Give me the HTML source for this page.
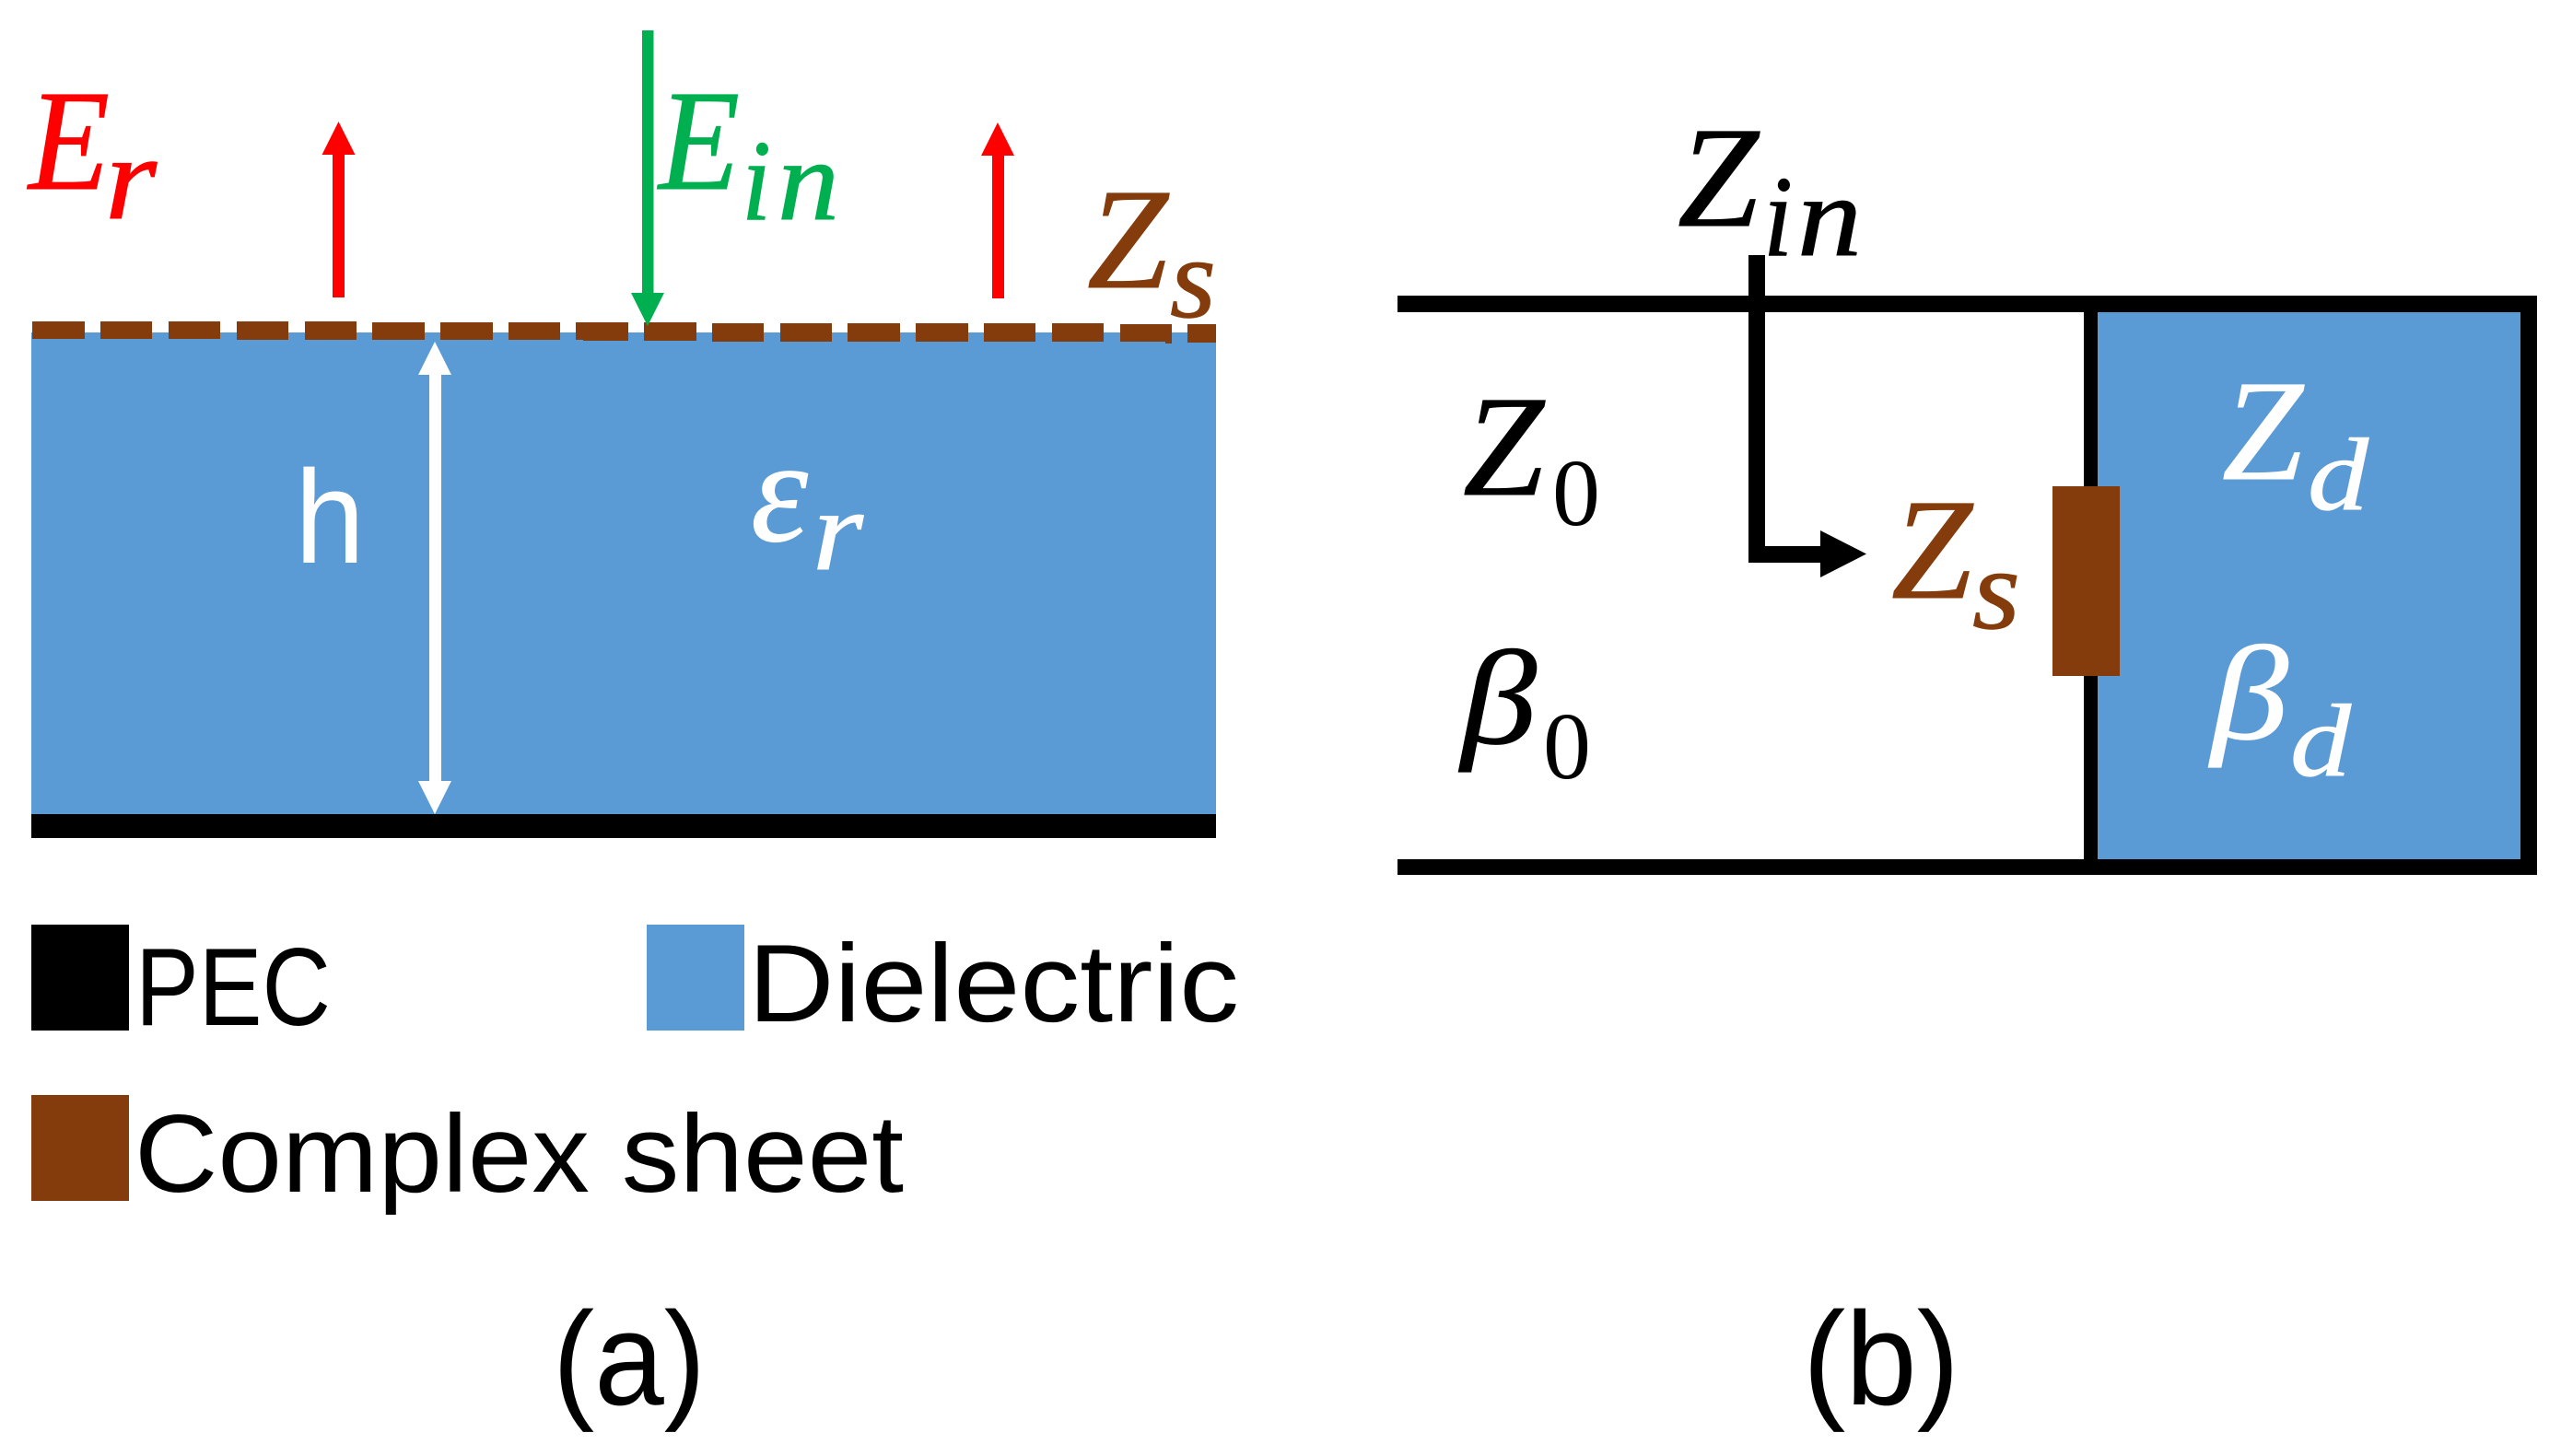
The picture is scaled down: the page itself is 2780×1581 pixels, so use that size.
<!DOCTYPE html>
<html><head><meta charset="utf-8"><title>Diagram</title>
<style>
html,body{margin:0;padding:0;background:#fff;width:2780px;height:1581px;overflow:hidden}
svg{display:block}
.s{font-family:"Liberation Sans",sans-serif}
.m{font-family:"Liberation Serif",serif;font-style:italic;stroke-width:1}
.u{font-family:"Liberation Serif",serif}
</style></head><body>
<svg xmlns="http://www.w3.org/2000/svg" width="2780" height="1581" viewBox="0 0 2780 1581">
<rect width="2780" height="1581" fill="#fff"/>
<!-- (a) substrate -->
<rect x="34" y="361" width="1286" height="524" fill="#5B9BD5"/>
<rect x="34" y="884" width="1286" height="26" fill="#000"/>
<!-- dashed sheet -->
<g fill="#843C0C">
<rect x="35" y="349" width="57" height="19"/><rect x="109" y="349" width="56" height="19"/><rect x="183" y="349" width="56" height="19"/><rect x="257" y="349" width="56" height="20"/><rect x="331" y="349" width="56" height="20"/>
<rect x="404" y="350" width="57" height="19"/><rect x="478" y="350" width="57" height="19"/><rect x="552" y="350" width="56" height="19"/><rect x="625" y="350" width="57" height="19"/><rect x="633" y="351" width="49" height="19"/><rect x="699" y="350" width="57" height="20"/>
<rect x="773" y="351" width="56" height="20"/><rect x="847" y="351" width="56" height="20"/><rect x="920" y="351" width="57" height="20"/><rect x="994" y="351" width="57" height="20"/><rect x="1068" y="351" width="56" height="20"/><rect x="1142" y="351" width="56" height="20"/>
<rect x="1216" y="352" width="56" height="19"/><rect x="1265" y="371" width="7" height="2"/><rect x="1289" y="352" width="31" height="20"/>
</g>
<!-- white double arrow -->
<rect x="466" y="400" width="13" height="455" fill="#fff"/>
<polygon points="472,371 490,407 454,407" fill="#fff"/>
<polygon points="472,884 490,848 454,848" fill="#fff"/>
<!-- red arrows -->
<g fill="#FF0000">
<rect x="361" y="165" width="13" height="158"/><polygon points="367.500,132 385.500,168 349.500,168"/>
<rect x="1077" y="166" width="13" height="158"/><polygon points="1083,133 1101,169 1065,169"/>
</g>
<!-- green arrow -->
<g fill="#00B050">
<rect x="697" y="33" width="12.500" height="288"/><polygon points="703,354 685,318 721,318"/>
</g>
<!-- (a) math -->
<g class="m" fill="#FF0000" stroke="#FF0000">
<text x="31" y="205" font-size="156" textLength="88" lengthAdjust="spacingAndGlyphs">E</text>
<text x="114" y="237" font-size="130" textLength="56" lengthAdjust="spacingAndGlyphs">r</text>
</g>
<g class="m" fill="#00B050" stroke="#00B050">
<text x="715" y="205" font-size="156" textLength="88" lengthAdjust="spacingAndGlyphs">E</text>
<text x="805" y="238" font-size="125" textLength="32" lengthAdjust="spacingAndGlyphs">i</text>
<text x="844" y="238" font-size="125" textLength="67" lengthAdjust="spacingAndGlyphs">n</text>
</g>
<g class="m" fill="#843C0C" stroke="#843C0C">
<text x="1180" y="312" font-size="156" textLength="88" lengthAdjust="spacingAndGlyphs">Z</text>
<text x="1270" y="344" font-size="125" textLength="50" lengthAdjust="spacingAndGlyphs">s</text>
</g>
<text class="s" x="320" y="611" font-size="144" fill="#fff" textLength="76" lengthAdjust="spacingAndGlyphs">h</text>
<g class="m" fill="#fff" stroke="#fff">
<text x="815" y="587" font-size="160" textLength="62" lengthAdjust="spacingAndGlyphs">ε</text>
<text x="882" y="618" font-size="125" textLength="55" lengthAdjust="spacingAndGlyphs">r</text>
</g>
<!-- legend -->
<rect x="34" y="1004" width="106" height="115" fill="#000"/>
<rect x="702" y="1004" width="106" height="115" fill="#5B9BD5"/>
<rect x="34" y="1189" width="106" height="115" fill="#843C0C"/>
<g class="s" fill="#000" font-size="120">
<text x="147" y="1113" textLength="212" lengthAdjust="spacingAndGlyphs">PEC</text>
<text x="812" y="1109" textLength="533" lengthAdjust="spacingAndGlyphs">Dielectric</text>
<text x="146" y="1294" textLength="835" lengthAdjust="spacingAndGlyphs">Complex sheet</text>
<text x="600" y="1525" font-size="144" textLength="166" lengthAdjust="spacingAndGlyphs">(a)</text>
<text x="1957" y="1525" font-size="144" textLength="170" lengthAdjust="spacingAndGlyphs">(b)</text>
</g>
<!-- (b) line -->
<rect x="2277" y="330" width="465" height="612" fill="#5B9BD5"/>
<g fill="#000">
<rect x="1517" y="321" width="1237" height="18"/>
<rect x="1517" y="933" width="1237" height="17"/>
<rect x="2736" y="321" width="18" height="629"/>
<rect x="2262" y="321" width="15" height="629"/>
<rect x="1898" y="277" width="18" height="334"/>
<rect x="1898" y="593" width="80" height="18"/>
<polygon points="1976,576 2026,601.500 1976,627"/>
</g>
<rect x="2228" y="528" width="73" height="206" fill="#843C0C"/>
<!-- (b) math -->
<g class="m" fill="#000" stroke="#000">
<text x="1821" y="245" font-size="156" textLength="88" lengthAdjust="spacingAndGlyphs">Z</text>
<text x="1914" y="277" font-size="125" textLength="32" lengthAdjust="spacingAndGlyphs">i</text>
<text x="1951" y="277" font-size="125" textLength="70" lengthAdjust="spacingAndGlyphs">n</text>
<text x="1588" y="537" font-size="156" textLength="88" lengthAdjust="spacingAndGlyphs">Z</text>
<text x="1586" y="807" font-size="146" textLength="82" lengthAdjust="spacingAndGlyphs">β</text>
</g>
<g class="u" fill="#000" font-size="104">
<text x="1685" y="570">0</text>
<text x="1675" y="845">0</text>
</g>
<g class="m" fill="#843C0C" stroke="#843C0C">
<text x="2053" y="649" font-size="156" textLength="88" lengthAdjust="spacingAndGlyphs">Z</text>
<text x="2141" y="682" font-size="125" textLength="52" lengthAdjust="spacingAndGlyphs">s</text>
</g>
<g class="m" fill="#fff" stroke="#fff">
<text x="2412" y="520" font-size="156" textLength="88" lengthAdjust="spacingAndGlyphs">Z</text>
<text x="2505" y="553" font-size="112" textLength="66" lengthAdjust="spacingAndGlyphs">d</text>
<text x="2400" y="802" font-size="146" textLength="84" lengthAdjust="spacingAndGlyphs">β</text>
<text x="2486" y="842" font-size="112" textLength="66" lengthAdjust="spacingAndGlyphs">d</text>
</g>
</svg>
</body></html>
